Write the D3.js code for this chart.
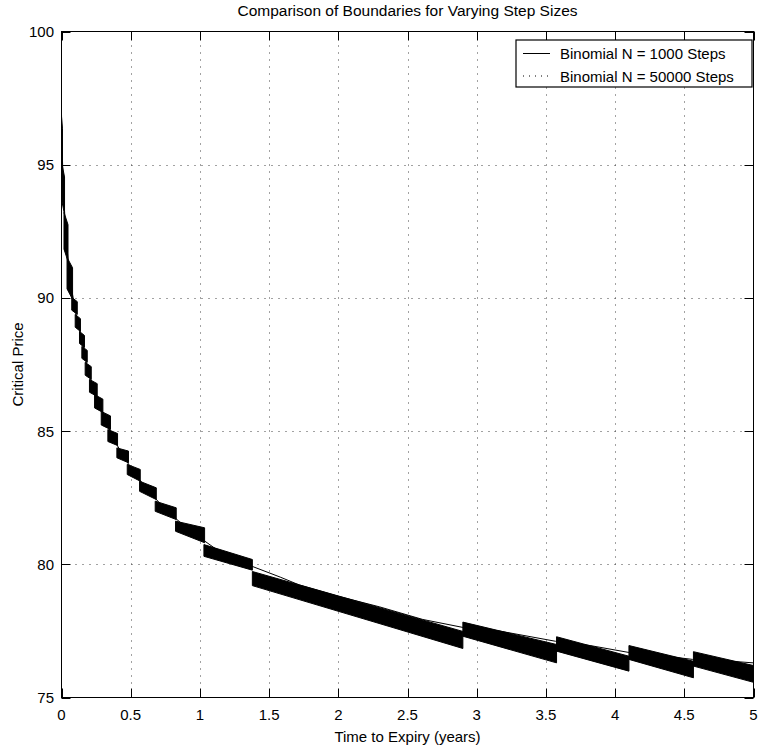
<!DOCTYPE html>
<html>
<head>
<meta charset="utf-8">
<script src="https://cdn.jsdelivr.net/npm/d3@7"></script>
<style>
  body { margin: 0; background: #fff; }
  text { font-family: "Liberation Sans", Arial, Helvetica, sans-serif; fill: #000; }
</style>
</head>
<body>
<div class="svg-container"></div>
<script>
// axis ticks
const xTicks = [0, 0.5, 1, 1.5, 2, 2.5, 3, 3.5, 4, 4.5, 5];
const yTicks = [75, 80, 85, 90, 95, 100];

// N = 50000 series: oscillates so fast it fills a band, one parallelogram per step block
const segStart    = [0, 0.004, 0.018, 0.040, 0.074, 0.099, 0.130, 0.147, 0.171, 0.202, 0.239, 0.287, 0.335, 0.400, 0.475, 0.564, 0.677, 0.824, 1.029, 1.379, 2.900, 3.577, 4.100, 4.566];
const segEnd      = [0.007, 0.022, 0.047, 0.080, 0.114, 0.137, 0.166, 0.186, 0.215, 0.258, 0.299, 0.354, 0.405, 0.484, 0.569, 0.685, 0.829, 1.034, 1.379, 2.900, 3.577, 4.100, 4.566, 5.000];
const segTopStart = [96.80, 95.01, 93.21, 91.52, 90.02, 89.38, 88.74, 88.18, 87.58, 86.94, 86.37, 85.74, 85.06, 84.37, 83.75, 83.12, 82.37, 81.62, 80.74, 79.73, 77.83, 77.28, 76.95, 76.72];
const segTopEnd   = [96.35, 94.54, 92.75, 91.13, 89.86, 89.22, 88.59, 88.03, 87.42, 86.78, 86.20, 85.57, 84.91, 84.25, 83.56, 82.87, 82.12, 81.37, 80.18, 77.48, 76.99, 76.55, 76.36, 76.20];
const segBotStart = [95.46, 93.60, 91.83, 90.34, 89.54, 88.90, 88.29, 87.73, 87.10, 86.46, 85.87, 85.23, 84.61, 84.00, 83.37, 82.74, 81.99, 81.24, 80.30, 79.20, 77.30, 76.74, 76.43, 76.18];
const segBotEnd   = [95.01, 93.13, 91.37, 89.94, 89.38, 88.74, 88.14, 87.58, 86.94, 86.30, 85.70, 85.06, 84.46, 83.81, 83.12, 82.43, 81.68, 80.81, 79.78, 76.84, 76.30, 75.99, 75.74, 75.57];

// N = 1000 series
const solidT = [0, 0.0035, 0.013, 0.0325, 0.06, 0.094, 0.118, 0.148, 0.1665, 0.193, 0.23, 0.269, 0.3205, 0.37, 0.442, 0.522, 0.6245, 0.753, 0.929, 1.204, 1.379, 1.58, 1.72, 2.0, 2.3, 2.61, 2.9, 3.17, 3.57, 3.82, 4.1, 4.32, 4.56, 4.76, 5.0];
const solidV = [96.9, 95.85, 94.07, 92.29, 90.73, 89.70, 89.06, 88.44, 87.88, 87.25, 86.62, 86.04, 85.40, 84.76, 84.11, 83.45, 82.79, 82.04, 81.26, 80.25, 79.92, 79.52, 79.22, 78.80, 78.40, 77.93, 77.63, 77.49, 77.11, 76.95, 76.69, 76.58, 76.43, 76.39, 76.30];

const legendLabels = ['Binomial N = 1000 Steps', 'Binomial N = 50000 Steps'];

// dimensions
const width = 759;
const height = 755;
const plot = { left: 61.5, right: 753.5, top: 31.5, bottom: 697.5 };
const tickLen = 9;

const svg = d3.select('.svg-container')
  .append('svg')
  .attr('width', width)
  .attr('height', height);

const x = d3.scaleLinear().domain([0, 5]).range([plot.left, plot.right]);
const y = d3.scaleLinear().domain([75, 100]).range([plot.bottom, plot.top]);

// dotted grid
const grid = svg.append('g')
  .attr('stroke', '#444')
  .attr('stroke-width', 1)
  .attr('stroke-dasharray', '1,6');

grid.selectAll('.gx')
  .data(xTicks.slice(1, -1))
  .enter()
  .append('line')
  .attr('x1', d => Math.round(x(d)) + 0.5)
  .attr('x2', d => Math.round(x(d)) + 0.5)
  .attr('y1', plot.top)
  .attr('y2', plot.bottom);

grid.selectAll('.gy')
  .data(yTicks.slice(1, -1))
  .enter()
  .append('line')
  .attr('y1', d => Math.round(y(d)) + 0.5)
  .attr('y2', d => Math.round(y(d)) + 0.5)
  .attr('x1', plot.left)
  .attr('x2', plot.right);

// band of the 50000 step boundary
const segments = segStart.map((s, i) => [
  { t: s, top: segTopStart[i], bot: segBotStart[i] },
  { t: segEnd[i], top: segTopEnd[i], bot: segBotEnd[i] }
]);

const band = d3.area()
  .x(d => x(d.t))
  .y0(d => y(d.bot))
  .y1(d => y(d.top));

svg.append('g')
  .selectAll('path')
  .data(segments)
  .enter()
  .append('path')
  .attr('d', band)
  .attr('fill', '#000')
  .attr('stroke', '#000')
  .attr('stroke-width', 1);

// 1000 step boundary
const line = d3.line()
  .x((d, i) => x(solidT[i]))
  .y(d => y(d));

svg.append('path')
  .datum(solidV)
  .attr('d', line)
  .attr('fill', 'none')
  .attr('stroke', '#000')
  .attr('stroke-width', 1);

// axes box
svg.append('rect')
  .attr('x', plot.left)
  .attr('y', plot.top)
  .attr('width', plot.right - plot.left)
  .attr('height', plot.bottom - plot.top)
  .attr('fill', 'none')
  .attr('stroke', '#000')
  .attr('stroke-width', 1);

// ticks pointing inward on all four sides
const ticks = svg.append('g').attr('stroke', '#000').attr('stroke-width', 1);
xTicks.forEach(d => {
  const px = Math.round(x(d)) + 0.5;
  ticks.append('line').attr('x1', px).attr('x2', px).attr('y1', plot.bottom).attr('y2', plot.bottom - tickLen);
  ticks.append('line').attr('x1', px).attr('x2', px).attr('y1', plot.top).attr('y2', plot.top + tickLen);
});
yTicks.forEach(d => {
  const py = Math.round(y(d)) + 0.5;
  ticks.append('line').attr('y1', py).attr('y2', py).attr('x1', plot.left).attr('x2', plot.left + tickLen);
  ticks.append('line').attr('y1', py).attr('y2', py).attr('x1', plot.right).attr('x2', plot.right - tickLen);
});

// tick labels
svg.append('g')
  .selectAll('text')
  .data(xTicks)
  .enter()
  .append('text')
  .attr('x', d => x(d))
  .attr('y', 720)
  .attr('text-anchor', 'middle')
  .style('font-size', '15px')
  .text(d => d);

svg.append('g')
  .selectAll('text')
  .data(yTicks)
  .enter()
  .append('text')
  .attr('x', 54)
  .attr('y', d => y(d) + 5.5)
  .attr('text-anchor', 'end')
  .style('font-size', '15px')
  .text(d => d);

// title and axis labels
svg.append('text')
  .attr('x', (plot.left + plot.right) / 2)
  .attr('y', 16)
  .attr('text-anchor', 'middle')
  .style('font-size', '15.5px')
  .text('Comparison of Boundaries for Varying Step Sizes');

svg.append('text')
  .attr('x', (plot.left + plot.right) / 2)
  .attr('y', 742)
  .attr('text-anchor', 'middle')
  .style('font-size', '15px')
  .text('Time to Expiry (years)');

svg.append('text')
  .attr('transform', 'translate(23,' + ((plot.top + plot.bottom) / 2) + ') rotate(-90)')
  .attr('text-anchor', 'middle')
  .style('font-size', '15px')
  .text('Critical Price');

// legend
const legend = svg.append('g');
legend.append('rect')
  .attr('x', 516)
  .attr('y', 40)
  .attr('width', 236)
  .attr('height', 47)
  .attr('fill', '#fff')
  .attr('stroke', '#000')
  .attr('stroke-width', 1.2);

legendLabels.forEach((label, i) => {
  const ly = 53.5 + i * 22.5;
  legend.append('line')
    .attr('x1', 523)
    .attr('x2', 550)
    .attr('y1', ly)
    .attr('y2', ly)
    .attr('stroke', '#000')
    .attr('stroke-width', 1)
    .attr('stroke-dasharray', i === 0 ? null : '1,5');
  legend.append('text')
    .attr('x', 560)
    .attr('y', ly + 5.5)
    .style('font-size', '15px')
    .text(label);
});
</script>
</body>
</html>
